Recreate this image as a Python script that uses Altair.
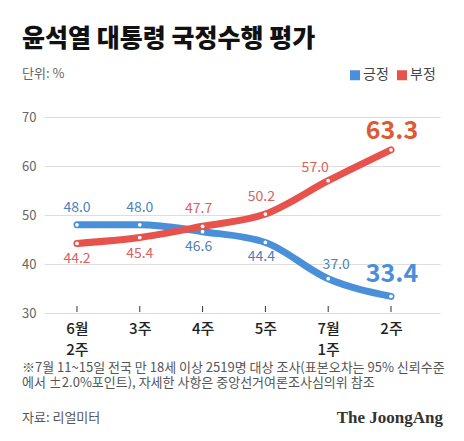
import json
import altair as alt
import pandas as pd

# ---- data ----
categories = ["6월 2주", "3주", "4주", "5주", "7월 1주", "2주"]
positive = [48.0, 48.0, 46.6, 44.4, 37.0, 33.4]
negative = [44.2, 45.4, 47.7, 50.2, 57.0, 63.3]
series_names = ["긍정", "부정"]

title_text = "윤석열 대통령 국정수행 평가"
unit_text = "단위: %"
note_lines = [
    "※7월 11~15일 전국 만 18세 이상 2519명 대상 조사(표본오차는 95% 신뢰수준",
    "에서 ±2.0%포인트), 자세한 사항은 중앙선거여론조사심의위 참조",
]
source_text = "자료: 리얼미터"
brand_text = "The JoongAng"

FONT = "Noto Sans CJK KR"
BLUE = "#4a8fd9"
RED = "#e8524c"
BLUE_LBL = "#4f82bb"
RED_LBL = "#dc625d"
BLUE_BIG = "#4a8fd9"
RED_BIG = "#de5a32"

rows = []
for i, c in enumerate(categories):
    rows.append({"idx": i, "cat": c, "series": series_names[0], "value": positive[i]})
    rows.append({"idx": i, "cat": c, "series": series_names[1], "value": negative[i]})
df = pd.DataFrame(rows)

W, H = 396, 196
last = len(categories) - 1

label_arr = json.dumps([c.split(" ") for c in categories], ensure_ascii=False)

x_enc = alt.X(
    "idx:Q",
    scale=alt.Scale(domain=[-0.525, 5.78], nice=False, zero=False),
    axis=alt.Axis(
        values=list(range(len(categories))),
        labelExpr=f"{label_arr}[datum.value]",
        title=None, domain=False, ticks=False, grid=False,
        labelFont=FONT, labelFontSize=15, labelFontWeight=500,
        labelColor="#222", labelPadding=8, labelLineHeight=21,
        labelBaseline="top",
    ),
)
y_enc = alt.Y(
    "value:Q",
    scale=alt.Scale(domain=[30, 70], nice=False, zero=False),
    axis=alt.Axis(
        values=[30, 40, 50, 60, 70], title=None, domain=False, ticks=False,
        grid=True, gridColor="#dedede", gridWidth=1,
        labelFont=FONT, labelFontSize=13, labelColor="#666", labelPadding=8,
    ),
)
color_enc = alt.Color(
    "series:N",
    scale=alt.Scale(domain=series_names, range=[BLUE, RED]),
    legend=alt.Legend(
        orient="none", legendX=304, legendY=-49, direction="horizontal",
        title=None, symbolType="square", symbolSize=1, symbolStrokeWidth=9,
        labelFont=FONT, labelFontSize=14, labelColor="#444",
        labelOffset=1, columnPadding=-6,
    ),
)

base = alt.Chart(df)

ticks = base.transform_filter(f"datum.series == '{series_names[0]}'").mark_rule(
    color="#333", strokeWidth=1
).encode(x="idx:Q", y=alt.value(H - 7), y2=alt.value(H - 1))

lines = base.mark_line(strokeWidth=7, interpolate="monotone", strokeCap="round").encode(
    x=x_enc, y=y_enc, color=color_enc
)
points = base.mark_point(
    filled=True, fill="white", size=14, opacity=1, strokeWidth=0
).encode(x="idx:Q", y="value:Q")

def lbl(series, idxs, color, dx, dy, size=14, weight="normal"):
    cond = " || ".join(f"datum.idx == {i}" for i in idxs)
    return base.transform_filter(
        f"datum.series == '{series}' && ({cond})"
    ).mark_text(
        font=FONT, fontSize=size, fontWeight=weight, color=color,
        dx=dx, dy=dy, baseline="middle", align="center",
    ).encode(x="idx:Q", y="value:Q", text=alt.Text("value:Q", format=".1f"))

labels = [
    lbl(series_names[0], [0, 1], BLUE_LBL, 0, -17),
    lbl(series_names[0], [2, 3], BLUE_LBL, -4, 15),
    lbl(series_names[0], [4], BLUE_LBL, 8, -14),
    lbl(series_names[1], [0, 1], RED_LBL, 0, 16),
    lbl(series_names[1], [2, 3], RED_LBL, -4, -17),
    lbl(series_names[1], [4], RED_LBL, -13, -13),
]
big = [
    base.transform_filter(f"datum.series == '{series_names[0]}' && datum.idx == {last}").mark_text(
        font=FONT, fontSize=25, fontWeight="bold", color=BLUE_BIG, dx=1, dy=-22,
        baseline="middle", align="center",
    ).encode(x="idx:Q", y="value:Q", text=alt.Text("value:Q", format=".1f")),
    base.transform_filter(f"datum.series == '{series_names[1]}' && datum.idx == {last}").mark_text(
        font=FONT, fontSize=25, fontWeight="bold", color=RED_BIG, dx=1, dy=-19,
        baseline="middle", align="center",
    ).encode(x="idx:Q", y="value:Q", text=alt.Text("value:Q", format=".1f")),
]

def free_text(txt, x, y, size, color, weight="normal", align="left", font=FONT):
    return alt.Chart(pd.DataFrame({"t": [txt]})).mark_text(
        font=font, fontSize=size, fontWeight=weight, color=color,
        align=align, baseline="middle",
    ).encode(x=alt.value(x), y=alt.value(y), text="t:N")

texts = [
    free_text(title_text, -22, -78, 25, "#111", 900),
    free_text(unit_text, -22, -43, 13, "#666"),
    free_text(note_lines[0], -22, 251, 13, "#555"),
    free_text(note_lines[1], -22, 266, 13, "#555"),
    free_text(source_text, -22, 301, 13, "#555"),
    free_text(brand_text, 399, 301, 17, "#333", "bold", "right", "Liberation Serif"),
]

chart = alt.layer(
    ticks, lines, points, *labels, *big, *texts
).properties(
    width=W, height=H,
    autosize=alt.AutoSizeParams(type="none"),
    padding={"left": 36, "top": 109, "right": 16, "bottom": 122},
    background="white",
).configure_view(stroke=None)

chart.save("out.html", embed_options={"renderer": "svg", "actions": False})
